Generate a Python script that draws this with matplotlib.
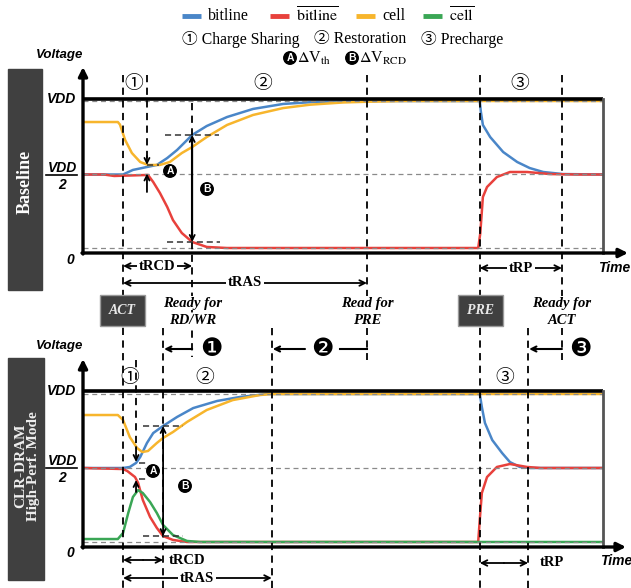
import numpy as np
import matplotlib
matplotlib.use('Agg')
import matplotlib.pyplot as plt
from matplotlib.patches import Rectangle

plt.rcParams['mathtext.fontset'] = 'stix'

BLUE, RED, YEL, GRN = '#4a86c8', '#e8413c', '#f7b52c', '#3aa655'
BOX = '#404040'
SERIF = ['Liberation Serif', 'DejaVu Serif', 'Noto Sans CJK JP']
SANS = ['Liberation Sans', 'DejaVu Sans']
CIRC = ['Noto Sans CJK JP', 'DejaVu Sans']

# ---- waveforms (time in a.u. 0..100, voltage normalised to VDD) ----
# Baseline
top_cell_t = [0, 6.7, 7.1, 8.1, 9.4, 11.0, 12.5, 14.8, 16.7, 19.0, 21.0, 23.8, 27.7, 32.7, 38.5, 43.7, 50.0, 54.6, 61.5, 100]
top_cell_v = [0.857, 0.857, 0.84, 0.735, 0.646, 0.585, 0.565, 0.565, 0.585, 0.646, 0.687, 0.755, 0.837, 0.905, 0.952, 0.975, 0.99, 0.995, 1.0, 1.0]
top_bl_t = [0, 7.7, 9.6, 12.3, 14.2, 16.2, 18.1, 21.0, 23.8, 27.7, 32.7, 38.5, 44.2, 51.3, 76.3, 76.5, 76.9, 78.3, 80.8, 83.5, 85.9, 88.5, 92.3, 100]
top_bl_v = [0.5, 0.5, 0.531, 0.551, 0.565, 0.612, 0.667, 0.769, 0.83, 0.891, 0.946, 0.98, 0.993, 1.0, 1.0, 0.93, 0.837, 0.755, 0.653, 0.585, 0.544, 0.517, 0.503, 0.5]
top_blb_t = [0, 4.0, 6.0, 12.5, 13.5, 14.8, 16.2, 17.3, 19.0, 21.0, 23.8, 27.7, 76.0, 76.4, 76.9, 77.7, 79.6, 82.1, 85.4, 89.8, 95.0, 100]
top_blb_v = [0.5, 0.5, 0.49, 0.497, 0.449, 0.374, 0.279, 0.19, 0.102, 0.041, 0.007, 0.0, 0.0, 0.1, 0.347, 0.415, 0.483, 0.517, 0.517, 0.503, 0.5, 0.5]

# CLR-DRAM high-performance mode
bot_cell_t = [0, 6.7, 7.7, 9.0, 10.4, 11.4, 12.5, 14.2, 15.4, 17.3, 20.0, 23.8, 28.8, 34.0, 36.3, 100]
bot_cell_v = [0.858, 0.858, 0.824, 0.709, 0.635, 0.608, 0.615, 0.669, 0.703, 0.743, 0.811, 0.892, 0.959, 0.993, 1.0, 1.0]
bot_bl_t = [0, 7.7, 9.0, 10.2, 11.0, 12.3, 13.5, 15.4, 18.1, 21.2, 25.8, 30.2, 35.4, 76.3, 76.7, 77.3, 78.7, 80.6, 82.1, 84.0, 86.0, 100]
bot_bl_v = [0.5, 0.5, 0.507, 0.534, 0.574, 0.669, 0.736, 0.784, 0.845, 0.905, 0.953, 0.98, 1.0, 1.0, 0.912, 0.804, 0.689, 0.601, 0.54, 0.507, 0.5, 0.5]
bot_blb_t = [0, 7.7, 8.5, 10.0, 10.6, 11.5, 12.9, 14.2, 15.4, 17.3, 20.0, 76.0, 76.3, 76.7, 77.7, 79.6, 82.1, 85.4, 88.0, 100]
bot_blb_v = [0.5, 0.493, 0.48, 0.439, 0.399, 0.284, 0.169, 0.095, 0.04, 0.014, 0.0, 0.0, 0.149, 0.331, 0.439, 0.507, 0.527, 0.507, 0.5, 0.5]
bot_cellb_t = [0, 6.7, 7.7, 8.7, 9.6, 10.6, 11.5, 12.9, 14.2, 15.4, 17.3, 20.0, 22.5, 100]
bot_cellb_v = [0.02, 0.02, 0.061, 0.196, 0.304, 0.351, 0.331, 0.27, 0.196, 0.115, 0.047, 0.007, 0.0, 0.0]

# command / timing events
t_act, t_pre = 7.7, 76.3
top_cs, top_trcd, top_tras, top_trp = 12.3, 21.0, 54.6, 92.1
bot_cs, bot_trcd, bot_tras, bot_trp = 10.2, 15.4, 36.3, 85.6

W, H = 631, 588
fig = plt.figure(figsize=(W / 100, H / 100), dpi=100)


def X(t):
    return 83 + 5.2 * t


def panel(y0, y1, v0, v1):
    ax = fig.add_axes([83 / W, 1 - y1 / H, 520 / W, (y1 - y0) / H])
    ax.set_xlim(0, 100)
    ax.set_ylim(v0, v1)
    ax.axis('off')
    for v in (0, 0.5, 1.0):
        ax.axhline(v, color='#8a8a8a', lw=0.9, ls=(0, (4, 3)), zorder=5)
    return ax


ax_top = panel(99, 253, -5 / 147, 149 / 147)
ax_bot = panel(391, 547, -5 / 148, 151 / 148)

lw = 1.8
ax_top.plot(top_bl_t, top_bl_v, color=BLUE, lw=lw)
ax_top.plot(top_blb_t, top_blb_v, color=RED, lw=lw)
ax_top.plot(top_cell_t, top_cell_v, color=YEL, lw=lw)
ax_bot.plot(bot_bl_t, bot_bl_v, color=BLUE, lw=lw)
ax_bot.plot(bot_blb_t, bot_blb_v, color=RED, lw=lw)
ax_bot.plot(bot_cell_t, bot_cell_v, color=YEL, lw=lw)
ax_bot.plot(bot_cellb_t, bot_cellb_v, color=GRN, lw=lw)

# ---- overlay in pixel coordinates ----
ov = fig.add_axes([0, 0, 1, 1], zorder=10)
ov.set_xlim(0, W)
ov.set_ylim(H, 0)
ov.axis('off')
ov.patch.set_alpha(0)


def arrow(x0, y0, x1, y1, style='->', lw=1.3, ms=9):
    ov.annotate('', xy=(x1, y1), xytext=(x0, y0),
                arrowprops=dict(arrowstyle=style, lw=lw, color='k', shrinkA=0, shrinkB=0,
                                mutation_scale=ms))


def vdash(x, y0, y1):
    ov.plot([x, x], [y0, y1], color='k', lw=1.3, ls=(0, (4, 3)))


def hdash(x0, x1, y):
    ov.plot([x0, x1], [y, y], color='#333', lw=1.1, ls=(0, (4, 2.5)))


def mark(x, y, s, fs=7.5):
    ov.text(x, y, s, ha='center', va='center', color='white', fontsize=fs, fontweight='bold',
            family=SANS, bbox=dict(boxstyle='circle,pad=0.12', fc='k', ec='k'))


# frames and axes arrows
for ytop, ybot, xend in ((99, 253, 628), (391, 547, 626)):
    ov.plot([83, 603], [ytop, ytop], color='k', lw=2.6, solid_capstyle='butt')
    ov.plot([603, 603], [ytop, ybot], color='#555555', lw=2)
    arrow(83, ybot + 1, 83, ytop - 32, style='-|>', lw=2.4, ms=13)
    arrow(82, ybot, xend, ybot, style='-|>', lw=2.4, ms=13)

# y labels
for ytop, yvdd, yhalf, yzero in ((55, 99, 175, 260), (346, 391, 468, 553)):
    ov.text(83, ytop, 'Voltage', ha='right', va='center', fontsize=9.5, fontweight='bold',
            style='italic', family=SANS)
    ov.text(76, yvdd, 'VDD', ha='right', va='center', fontsize=10, fontweight='bold',
            style='italic', family=SANS)
    ov.text(62, yhalf - 7, 'VDD', ha='center', va='center', fontsize=10, fontweight='bold',
            style='italic', family=SANS)
    ov.plot([46, 77], [yhalf, yhalf], color='k', lw=1.2)
    ov.text(62, yhalf + 10, '2', ha='center', va='center', fontsize=10, fontweight='bold',
            style='italic', family=SANS)
    ov.text(70, yzero, '0', ha='center', va='center', fontsize=10, fontweight='bold',
            style='italic', family=SANS)
ov.text(614, 268, 'Time', ha='center', va='center', fontsize=10, fontweight='bold',
        style='italic', family=SANS)
ov.text(616, 561, 'Time', ha='center', va='center', fontsize=10, fontweight='bold',
        style='italic', family=SANS)

# side labels
ov.add_patch(Rectangle((8, 69), 34, 221, color=BOX, zorder=0))
ov.text(25, 182, 'Baseline', rotation=90, ha='center', va='center', color='white',
        fontsize=13, fontweight='bold', family=SERIF)
ov.add_patch(Rectangle((8, 358), 36, 222, color=BOX, zorder=0))
ov.text(27, 466, 'CLR-DRAM\nHigh-Perf. Mode', rotation=90, ha='center', va='center',
        multialignment='center', linespacing=1.0, color='#eeeeee', fontsize=11,
        fontweight='bold', family=SERIF)

# legend
leg = [(BLUE, 182, 'bitline'), (RED, 270, r'$\overline{\mathrm{bitline}}$'),
       (YEL, 356, 'cell'), (GRN, 423, r'$\overline{\mathrm{cell}}$')]
for c, x, s in leg:
    ov.plot([x, x + 19], [16, 16], color=c, lw=3.5, solid_capstyle='butt')
    ov.text(x + 26, 16, s, ha='left', va='center', fontsize=11.5, family=SERIF)
for x, s in ((182, '\u2460 Charge Sharing'), (314, '\u2461 Restoration'), (421, '\u2462 Precharge')):
    ov.text(x, 39, s, ha='left', va='center', fontsize=11.3, family=SERIF)
mark(290, 58, 'A')
ov.text(297, 58, r'$\Delta$V$_{\mathrm{th}}$', ha='left', va='center', fontsize=11.5, family=SERIF)
mark(352, 58, 'B')
ov.text(359, 58, r'$\Delta$V$_{\mathrm{RCD}}$', ha='left', va='center', fontsize=11.5, family=SERIF)

# ---- top panel annotations ----
ya, yb = 248, 147   # pixel of v=0 and per-VDD scale
vdash(X(t_act), 75, 588)
vdash(X(top_cs), 75, 158)
vdash(X(top_trcd), 103, 357)
vdash(X(top_tras), 75, 360)
vdash(X(t_pre), 75, 588)
vdash(X(top_trp), 75, 360)
for t, s in ((9.8, '\u2460'), (34.6, '\u2461'), (84.0, '\u2462')):
    ov.text(X(t), 84, s, ha='center', va='center', fontsize=13.5, family=CIRC)

v_cmin = min(top_cell_v)
arrow(X(top_cs), 156, X(top_cs), ya - yb * v_cmin)
arrow(X(top_cs), 192, X(top_cs), ya - yb * 0.5 - 1)
hdash(X(top_cs), X(top_cs) + 12, ya - yb * v_cmin)
mark(170, 171, 'A')
mark(207, 189, 'B')
v_hi = np.interp(top_trcd, top_bl_t, top_bl_v)
v_lo = np.interp(top_trcd, top_blb_t, top_blb_v)
arrow(X(top_trcd), ya - yb * 0.5, X(top_trcd), ya - yb * v_hi)
arrow(X(top_trcd), ya - yb * 0.5, X(top_trcd), ya - yb * v_lo)
ov.plot([X(top_trcd)] * 2, [ya - yb * v_hi + 3, ya - yb * v_lo - 3], color='k', lw=1.5)
hdash(X(top_trcd) - 27, X(top_trcd) + 27, ya - yb * v_hi)
hdash(X(top_trcd) - 25, X(top_trcd) + 28, ya - yb * v_lo)


def span(x0, x1, y, label, lx, bg=True):
    arrow((x0 + x1) / 2, y, x0, y, ms=10)
    arrow((x0 + x1) / 2, y, x1, y, ms=10)
    ov.text(lx, y, label, ha='center', va='center', fontsize=10.5, fontweight='bold',
            family=SERIF, bbox=dict(fc='white', ec='none', pad=1.5) if bg else None)


span(X(t_act), X(top_trcd), 266, 'tRCD', 157)
span(X(t_act), X(top_tras), 283, 'tRAS', 245)
span(X(t_pre), X(top_trp), 268, 'tRP', 521)

# ---- command boxes and readiness notes ----
for x, s in ((100, 'ACT'), (458, 'PRE')):
    ov.add_patch(Rectangle((x, 295), 45, 31, fc=BOX, ec='#9a9a9a', lw=1, zorder=3))
    ov.text(x + 22.5, 310.5, s, ha='center', va='center', color='#e8e8e8', fontsize=10,
            fontweight='bold', style='italic', family=SERIF, zorder=4)
for x, a, b in ((X(top_trcd), 'Ready for', 'RD/WR'), (X(top_tras), 'Read for', 'PRE'),
                (X(top_trp), 'Ready for', 'ACT')):
    for y, s in ((303, a), (321, b)):
        ov.text(x, y, s, ha='center', va='center', fontsize=10.5, fontweight='bold',
                style='italic', family=SERIF,
                bbox=dict(fc='white', ec='none', pad=0.5))
arrow(X(top_trcd), 349, X(bot_trcd) + 1, 349, lw=1.5)
ov.text(211, 349, '\u2776', ha='center', va='center', fontsize=18, family=['DejaVu Sans'])
arrow(305, 349, X(bot_tras) + 1, 349, lw=1.5)
ov.plot([340, X(top_tras)], [349, 349], color='k', lw=1.5)
ov.text(322, 349, '\u2777', ha='center', va='center', fontsize=18, family=['DejaVu Sans'])
arrow(X(top_trp), 349, X(bot_trp) + 1, 349, lw=1.5)
ov.text(580, 349, '\u2778', ha='center', va='center', fontsize=18, family=['DejaVu Sans'])

# ---- bottom panel annotations ----
ya, yb = 542, 148
vdash(X(bot_cs), 360, 449)
vdash(X(bot_trcd), 328, 588)
vdash(X(bot_tras), 328, 588)
vdash(X(bot_trp), 328, 588)
for t, s in ((9.0, '\u2460'), (23.4, '\u2461'), (81.2, '\u2462')):
    ov.text(X(t), 377, s, ha='center', va='center', fontsize=13.5, family=CIRC)

v_up = np.interp(bot_cs, bot_bl_t, bot_bl_v)
v_dn = np.interp(bot_cs, bot_blb_t, bot_blb_v)
arrow(X(bot_cs), 447, X(bot_cs), ya - yb * v_up - 1)
arrow(X(bot_cs), 492, X(bot_cs), ya - yb * v_dn + 1)
hdash(X(bot_cs) + 3, X(bot_cs) + 10, ya - yb * v_up)
hdash(X(bot_cs) + 3, X(bot_cs) + 10, ya - yb * v_dn)
mark(153, 471, 'A')
mark(185, 486, 'B')
v_hi = np.interp(bot_trcd, bot_bl_t, bot_bl_v)
v_lo = np.interp(bot_trcd, bot_blb_t, bot_blb_v)
arrow(X(bot_trcd), ya - yb * 0.5, X(bot_trcd), ya - yb * v_hi)
arrow(X(bot_trcd), ya - yb * 0.5, X(bot_trcd), ya - yb * v_lo)
hdash(X(bot_trcd) - 20, X(bot_trcd) + 20, ya - yb * v_hi)
hdash(X(bot_trcd) - 20, X(bot_trcd) + 20, ya - yb * v_lo)

span(X(t_act), X(bot_trcd), 560, 'tRCD', 187, bg=False)
span(X(t_act), X(bot_tras), 578, 'tRAS', 197)
span(X(t_pre), X(bot_trp), 563, 'tRP', 552, bg=False)

fig.savefig('out.png', dpi=100)
